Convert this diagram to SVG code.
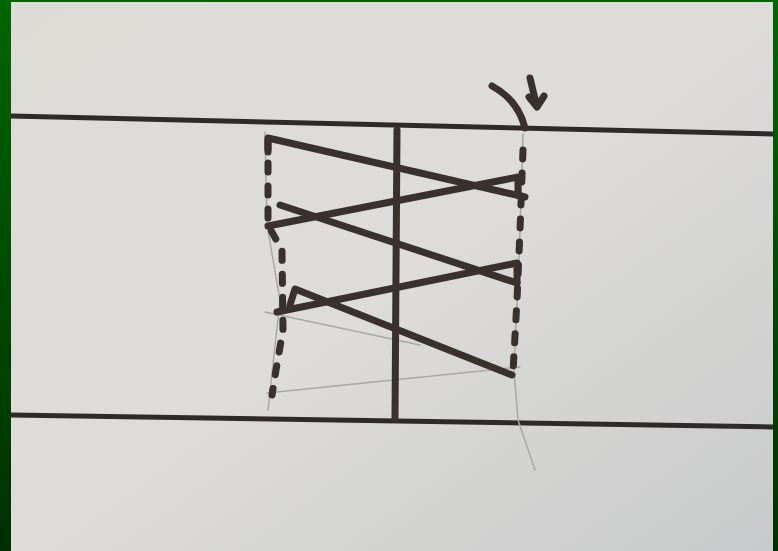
<svg xmlns="http://www.w3.org/2000/svg" width="778" height="551" viewBox="0 0 778 551">
<defs>
<linearGradient id="bg" x1="0" y1="0" x2="0" y2="1">
<stop offset="0" stop-color="#006600"/>
<stop offset="1" stop-color="#003000"/>
</linearGradient>
<linearGradient id="paper" x1="0" y1="0" x2="1" y2="1">
<stop offset="0" stop-color="#dcdbd6"/>
<stop offset="0.5" stop-color="#dddcd9"/>
<stop offset="1" stop-color="#c9cacb"/>
</linearGradient>
<style>
.ink{fill:none;stroke:#3a302e;stroke-width:7;stroke-linecap:round;stroke-linejoin:round}
.rule{fill:none;stroke:#2f2a2a;stroke-width:5;stroke-linecap:butt}
.dots{fill:none;stroke:#3a302e;stroke-width:7;stroke-linecap:round;stroke-dasharray:9 14}
.pencil{fill:none;stroke:#a9a8a6;stroke-width:1.5;stroke-linecap:round}
</style>
</defs>
<rect width="778" height="551" fill="url(#bg)"/>
<rect x="11" y="2" width="762" height="549" fill="url(#paper)"/>
<g id="rules">
<path class="rule" d="M11,116 L773,134"/>
<path class="rule" d="M11,415 L773,427"/>
</g>
<g id="pencil">
<path class="pencil" d="M265,132 L267,225 L280,300 L268,410"/>
<path class="pencil" d="M523,134 L519,260 L514,370 L518,420 L535,470"/>
<path class="pencil" d="M265,312 L420,345"/>
<path class="pencil" d="M267,393 L520,367"/>
</g>
<g id="axis">
<path class="ink" d="M397,130 L395,418" stroke-width="8"/>
</g>
<g id="dotted">
<path class="dots" d="M268,140 L268,225 L282,250 L283,330 L276,370 L272,395"/>
<path class="dots" d="M523,150 L520,230 L517,300 L513,372"/>
</g>
<g id="zigzag">
<path class="ink" d="M268,152 L268,138 L525,197"/>
<path class="ink" d="M518,195 L518,177 L268,226"/>
<path class="ink" d="M280,205 L517,283"/>
<path class="ink" d="M517,283 L517,263 L277,312"/>
<path class="ink" d="M290,305 L295,289 L512,375"/>
</g>
<g id="arrow">
<path class="ink" d="M492,86 Q518,100 525,128" stroke-width="6"/>
<path class="ink" d="M530,78 L536,103" stroke-width="6"/>
<path class="ink" d="M529,97 L537,107 L544,96" stroke-width="6"/>
</g>
</svg>
